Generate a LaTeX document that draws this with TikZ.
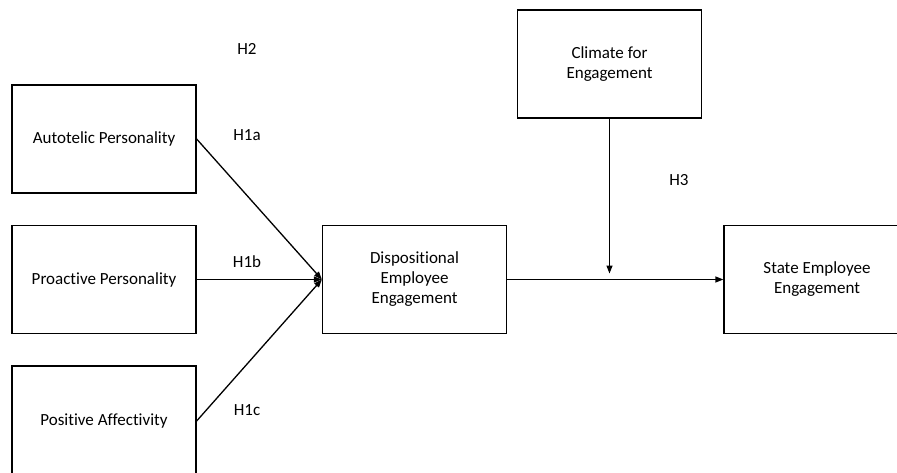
\documentclass[tikz,border=0pt]{standalone}
\usepackage{fontspec}
\setmainfont[Ligatures=NoCommon]{Carlito}
\usetikzlibrary{arrows.meta}

\begin{document}
\begin{tikzpicture}[x=1pt,y=-1pt,line width=1.3pt,>={Triangle[length=8pt,width=6pt]},
  font=\fontsize{17}{20}\selectfont,
  box/.style={draw,minimum width=184pt,minimum height=108pt,align=center,inner sep=0pt}]
\clip (0,0) rectangle (897,472);
% ---------- 左侧三个前因 ----------
\node[box] (auto) at (104,139) {Autotelic Personality};
\node[box] (proa) at (104,279.5) {Proactive Personality};
\node[box,minimum height=110pt] (posi) at (104,421) {Positive Affectivity};
% ---------- 中间与右侧 ----------
\node[box] (disp) at (414.5,279.5) {Dispositional\\Employee\\Engagement};
\node[box] (clim) at (609.5,64) {Climate for\\Engagement};
\node[box,minimum width=186pt] (stat) at (817,279.5) {State Employee\\Engagement};
% 假设标签
\node (h2) at (247,49) {H2};
\node (h1a) at (247,135) {H1a};
\node (h1b) at (247,262) {H1b};
\node (h1c) at (247,410) {H1c};
\node (h3) at (679,180) {H3};
% 箭头
\draw[->] (auto.east) -- (disp.west);
\draw[->] (proa.east) -- (disp.west);
\draw[->] (posi.east) -- (disp.west);
\draw[->] (disp.east) -- (stat.west);
\coordinate (mod) at (clim.south |- disp.east);
\draw[->,shorten >=6pt] (clim.south) -- (mod);
\end{tikzpicture}
\end{document}
